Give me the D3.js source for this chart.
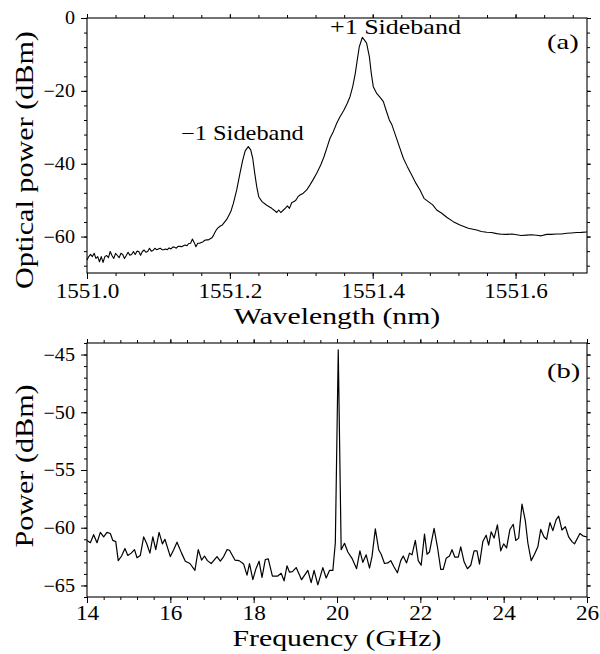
<!DOCTYPE html>
<html>
<head>
<meta charset="utf-8">
<script src="https://cdn.jsdelivr.net/npm/d3@7"></script>
<style>
body{margin:0;background:#fff;}
</style>
</head>
<body>
<div class="canvas"></div>
<script>
// panel (a) - optical spectrum
var wavelength=[1551.0000,1551.0025,1551.0050,1551.0075,1551.0100,1551.0125,1551.0150,1551.0175,1551.0200,1551.0225,
 1551.0250,1551.0275,1551.0300,1551.0325,1551.0350,1551.0375,1551.0400,1551.0425,1551.0450,1551.0475,
 1551.0500,1551.0525,1551.0550,1551.0575,1551.0600,1551.0625,1551.0650,1551.0675,1551.0700,1551.0725,
 1551.0750,1551.0775,1551.0800,1551.0825,1551.0850,1551.0875,1551.0900,1551.0925,1551.0950,1551.0975,
 1551.1000,1551.1025,1551.1050,1551.1075,1551.1100,1551.1125,1551.1150,1551.1175,1551.1200,1551.1225,
 1551.1250,1551.1275,1551.1300,1551.1325,1551.1350,1551.1375,1551.1400,1551.1425,1551.1450,1551.1475,
 1551.1500,1551.1525,1551.1550,1551.1575,1551.1600,1551.1625,1551.1650,1551.1675,1551.1700,1551.1725,
 1551.1750,1551.1773,1551.1792,1551.1810,1551.1830,1551.1867,1551.1895,1551.1956,1551.2012,1551.2049,
 1551.2096,1551.2142,1551.2180,1551.2216,1551.2258,1551.2292,1551.2320,1551.2348,1551.2376,1551.2404,
 1551.2450,1551.2516,1551.2586,1551.2628,1551.2656,1551.2684,1551.2712,1551.2750,1551.2778,1551.2806,
 1551.2834,1551.2866,1551.2898,1551.2926,1551.2954,1551.2982,1551.3028,1551.3076,1551.3122,1551.3168,
 1551.3216,1551.3272,1551.3318,1551.3364,1551.3402,1551.3448,1551.3496,1551.3542,1551.3598,1551.3644,
 1551.3682,1551.3720,1551.3756,1551.3784,1551.3812,1551.3855,1551.3890,1551.3915,1551.3953,1551.3980,
 1551.4008,1551.4056,1551.4112,1551.4149,1551.4186,1551.4233,1551.4270,1551.4317,1551.4373,1551.4429,
 1551.4485,1551.4546,1551.4606,1551.4662,1551.4718,1551.4778,1551.4840,1551.4896,1551.4966,1551.5036,
 1551.5128,1551.5222,1551.5338,1551.5456,1551.5520,1551.5596,1551.5660,1551.5736,1551.5800,1551.5876,
 1551.5950,1551.6016,1551.6080,1551.6156,1551.6220,1551.6296,1551.6360,1551.6436,1551.6500,1551.6576,
 1551.6640,1551.6716,1551.6780,1551.6856,1551.6920,1551.7000];
var opticalPower=[-66.4,-65.5,-64.9,-65.5,-64.6,-66.0,-65.5,-66.9,-65.5,-67.1,
 -65.5,-65.2,-65.8,-64.1,-65.2,-66.0,-64.6,-65.2,-65.8,-64.6,
 -64.9,-66.0,-65.2,-64.3,-65.1,-64.9,-64.1,-64.9,-64.0,-64.1,
 -65.1,-64.1,-63.7,-64.3,-64.1,-63.2,-64.0,-63.8,-63.2,-63.6,
 -63.4,-63.2,-63.6,-63.6,-63.4,-63.6,-63.1,-63.4,-62.9,-62.9,
 -63.2,-62.7,-62.7,-62.8,-62.5,-62.3,-62.5,-61.9,-61.85,-60.7,
 -61.6,-62.8,-61.85,-61.85,-61.6,-61.4,-61.0,-60.9,-60.9,-60.6,
 -60.3,-59.6,-58.8,-58.2,-57.7,-57.1,-56.8,-55.3,-53.2,-50.9,
 -47.2,-42.6,-39.0,-36.4,-35.3,-36.2,-38.5,-42.6,-46.3,-49.05,
 -50.4,-51.4,-52.25,-52.9,-53.4,-52.7,-53.4,-52.7,-52.2,-51.6,
 -52.25,-50.7,-50.4,-49.96,-49.05,-48.6,-48.1,-47.2,-45.8,-44.3,
 -42.6,-40.35,-38.1,-35.3,-33.0,-31.2,-28.9,-27.1,-25.25,-23.4,
 -21.6,-18.85,-15.2,-11.5,-7.9,-5.3,-6.2,-6.95,-10.6,-15.2,
 -18.85,-20.7,-22.0,-22.97,-25.25,-28.0,-29.4,-32.1,-35.3,-38.5,
 -40.8,-43.1,-45.4,-47.2,-49.5,-50.4,-51.3,-52.7,-53.6,-54.7,
 -55.9,-56.8,-57.7,-58.2,-58.6,-58.8,-58.9,-59.2,-59.35,-59.4,
 -59.3,-59.5,-59.7,-59.6,-59.5,-59.65,-59.8,-59.4,-59.4,-59.3,
 -59.3,-59.1,-59.0,-58.9,-58.85,-58.75];

// panel (b) - RF spectrum
var frequency=[14.00,14.08,14.16,14.24,14.32,14.40,14.48,14.56,14.62,14.69,
 14.75,14.83,14.91,14.98,15.06,15.14,15.20,15.28,15.36,15.43,
 15.51,15.58,15.65,15.73,15.81,15.87,16.00,16.08,16.16,16.27,
 16.36,16.47,16.59,16.67,16.75,16.82,16.89,16.98,17.12,17.20,
 17.28,17.36,17.42,17.55,17.65,17.76,17.84,17.90,17.98,18.05,
 18.13,18.20,18.28,18.35,18.45,18.57,18.66,18.73,18.80,18.86,
 18.93,19.02,19.15,19.30,19.38,19.45,19.54,19.66,19.74,19.82,
 19.90,19.96,20.03,20.10,20.18,20.26,20.36,20.47,20.55,20.62,
 20.70,20.78,20.84,20.92,21.00,21.06,21.14,21.22,21.29,21.37,
 21.45,21.53,21.59,21.67,21.74,21.80,21.88,21.95,22.02,22.10,
 22.16,22.22,22.33,22.41,22.49,22.55,22.62,22.70,22.76,22.83,
 22.91,22.97,23.05,23.13,23.21,23.29,23.36,23.42,23.50,23.58,
 23.64,23.70,23.77,23.85,23.93,24.00,24.07,24.15,24.23,24.29,
 24.36,24.44,24.52,24.58,24.66,24.74,24.82,24.89,24.97,25.03,
 25.11,25.18,25.26,25.32,25.40,25.48,25.56,25.64,25.70,25.83,
 25.90,26.00];
var rfPower=[-61.1,-61.3,-60.6,-61.3,-60.4,-60.8,-60.4,-60.5,-61.1,-61.2,
 -62.85,-62.45,-61.8,-62.4,-62.2,-61.9,-62.6,-62.4,-60.8,-61.35,
 -62.2,-60.8,-61.9,-60.4,-61.4,-61.0,-62.5,-61.9,-61.25,-62.2,
 -62.9,-63.1,-63.7,-61.9,-62.8,-62.45,-62.85,-63.1,-62.5,-62.9,
 -62.5,-61.9,-61.95,-62.8,-62.85,-63.15,-64.1,-63.1,-64.5,-63.6,
 -62.9,-64.3,-62.75,-62.7,-64.2,-64.2,-63.95,-64.6,-63.3,-63.85,
 -63.8,-63.45,-64.5,-63.7,-64.75,-63.7,-64.95,-63.45,-64.35,-63.7,
 -63.7,-61.3,-44.6,-61.9,-61.35,-62.1,-62.65,-63.55,-62.0,-63.0,
 -62.35,-63.5,-62.5,-60.1,-61.9,-62.3,-63.1,-63.05,-62.85,-63.4,
 -63.9,-62.85,-62.45,-63.05,-62.2,-62.35,-61.1,-62.85,-63.25,-60.55,
 -62.3,-62.1,-60.05,-61.65,-63.6,-63.6,-62.65,-62.45,-61.9,-62.55,
 -62.55,-61.65,-62.95,-63.55,-63.25,-62.0,-62.0,-63.15,-61.2,-60.65,
 -61.5,-60.35,-60.9,-59.75,-62.0,-61.4,-61.75,-60.15,-59.7,-61.1,
 -60.9,-57.95,-59.4,-61.3,-62.85,-62.3,-61.65,-60.15,-60.8,-61.0,
 -59.55,-60.25,-59.3,-59.0,-60.2,-59.9,-60.8,-61.2,-61.4,-60.5,
 -60.7,-60.8];

var wlTicks=[1551.0,1551.2,1551.4,1551.6];
var optTicks=[0,-20,-40,-60];
var freqTicks=[14,16,18,20,22,24,26];
var rfTicks=[-45,-50,-55,-60,-65];

var serif="Liberation Serif, Times New Roman, serif";
var svgWidth=600, svgHeight=654;
const svg=d3.select(".canvas").append("svg")
     .attr("width",svgWidth)
     .attr("height",svgHeight)
     .attr("font-family",serif);

// serif text, stretched a bit sideways to get the wide look of the original font
function label(parent,str,x,y,size,sx,anchor,rot){
     var t="translate("+x+","+y+")"+(rot?" rotate(-90)":"")+" scale("+sx+",1)";
     return parent.append("text").text(str)
          .attr("transform",t)
          .attr("font-family",serif)
          .attr("font-size",size)
          .attr("fill","#000")
          .attr("text-anchor",anchor||"start");
}

function drawPanel(p){
     var x=d3.scaleLinear().domain(p.xDomain).range([87,587]);
     var y=d3.scaleLinear().domain(p.yDomain).range([p.bottom,p.top]);
     var g=svg.append("g");

     // minor ticks everywhere, major ticks mirrored on top/right
     var axes=[
          [d3.axisBottom(x),p.xMinor,3,"translate(0,"+p.bottom+")"],
          [d3.axisTop(x),p.xMinor,3,"translate(0,"+p.top+")"],
          [d3.axisLeft(y),p.yMinor,3,"translate(87,0)"],
          [d3.axisRight(y),p.yMinor,3,"translate(587,0)"],
          [d3.axisTop(x),p.xMajor,4,"translate(0,"+p.top+")"],
          [d3.axisRight(y),p.yMajor,4,"translate(587,0)"]
     ];
     axes.forEach(function(a){
          g.append("g").attr("transform",a[3])
               .call(a[0].tickValues(a[1]).tickSize(a[2]).tickSizeOuter(0).tickFormat(""))
               .call(s=>s.select(".domain").remove());
     });

     g.append("g").attr("transform","translate(0,"+p.bottom+")")
          .call(d3.axisBottom(x).tickValues(p.xMajor).tickSize(6).tickPadding(p.xPad).tickFormat(p.xFormat))
          .attr("font-family",serif)
          .call(s=>s.select(".domain").remove())
          .selectAll("text")
          .attr("font-size",20).attr("font-family",serif)
          .attr("transform","scale(1.16,1)");
     g.append("g").attr("transform","translate(87,0)")
          .call(d3.axisLeft(y).tickValues(p.yMajor).tickSize(6).tickPadding(6).tickFormat(d3.format("d")))
          .attr("font-family",serif)
          .call(s=>s.select(".domain").remove())
          .selectAll("text")
          .attr("font-size",18).attr("font-family",serif)
          .attr("x",-12/1.12)
          .attr("transform","scale(1.12,1)");

     g.selectAll(".tick line").attr("stroke","#000");

     g.append("rect")
          .attr("x",87).attr("y",p.top)
          .attr("width",500).attr("height",p.bottom-p.top)
          .attr("fill","none").attr("stroke","#000").attr("stroke-width",1.1);

     var line=d3.line().x(d=>x(d[0])).y(d=>y(d[1]));
     g.append("path")
          .datum(d3.zip(p.xs,p.ys))
          .attr("d",line)
          .attr("fill","none")
          .attr("stroke","#000")
          .attr("stroke-width",p.lw)
          .attr("stroke-linejoin","round");

     label(g,p.xTitle,337,p.xTitleY,24,1.24,"middle");
     label(g,p.yTitle,33,p.yTitleC,26,1.16,"middle",true);
     label(g,p.tag,547,p.tagY,22,1.3);
     return g;
}

var gA=drawPanel({
     xDomain:[1551.0,1551.7], yDomain:[-70,0], top:18, bottom:273,
     xMajor:wlTicks, xMinor:d3.range(0,18).map(i=>1551+i*0.04),
     yMajor:optTicks, yMinor:d3.range(0,18).map(i=>-i*4),
     xFormat:d3.format(".1f"), xPad:5,
     xs:wavelength, ys:opticalPower, lw:1.1,
     xTitle:"Wavelength (nm)", xTitleY:324,
     yTitle:"Optical power (dBm)", yTitleC:160,
     tag:"(a)", tagY:49
});
label(gA,"+1 Sideband",330,34,20,1.3);
label(gA,"\u22121 Sideband",181,140,20,1.22);

drawPanel({
     xDomain:[14,26], yDomain:[-66,-44], top:343, bottom:597,
     xMajor:freqTicks, xMinor:d3.range(0,31).map(i=>14+i*0.4),
     yMajor:rfTicks, yMinor:d3.range(-66,-43),
     xFormat:d3.format("d"), xPad:3,
     xs:frequency, ys:rfPower, lw:1.2,
     xTitle:"Frequency (GHz)", xTitleY:646,
     yTitle:"Power (dBm)", yTitleC:466,
     tag:"(b)", tagY:378
});
</script>
</body>
</html>
